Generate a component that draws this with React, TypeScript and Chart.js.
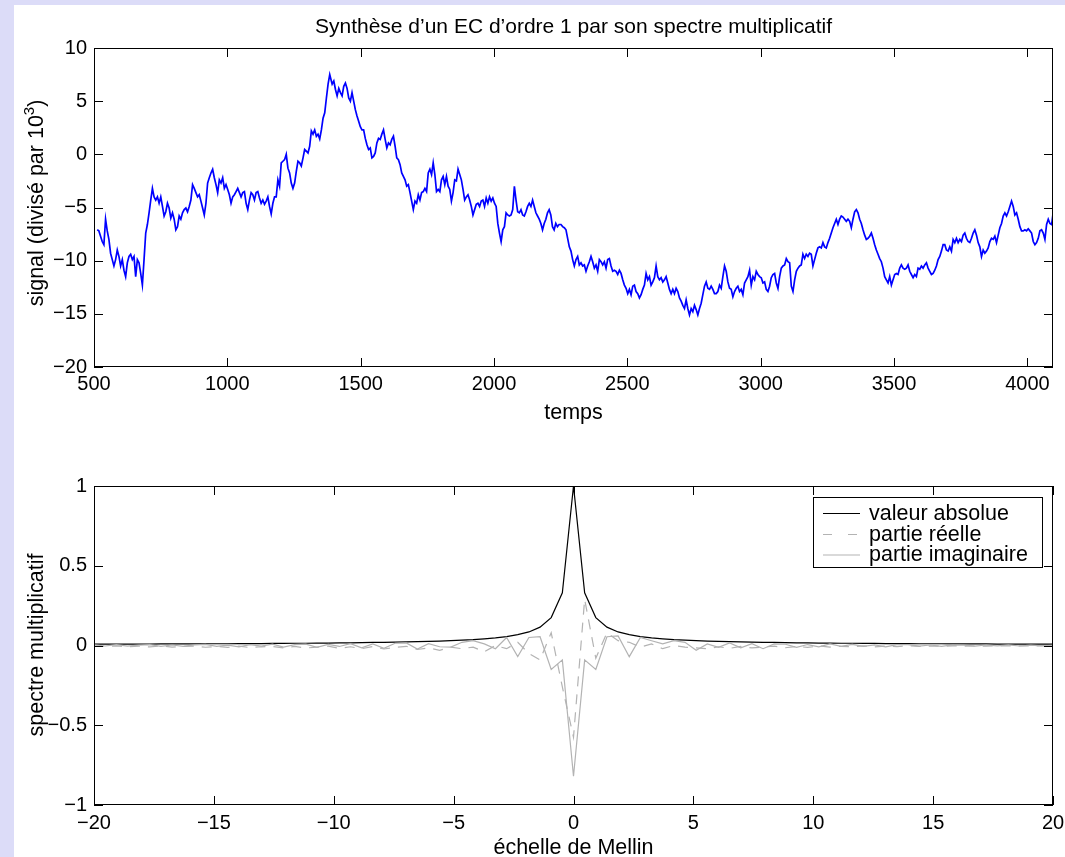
import React, { useEffect, useRef } from 'react';
import { Chart, registerables } from 'chart.js';

Chart.register(...registerables);

const FONT = '"Liberation Sans", Arial, Helvetica, sans-serif';
const TICK_FS = 20;
const TEXT_FS = 21.5;
const TITLE_FS = 21;
const LAVENDER = '#dcdcf8';
const GREY = '#b3b3b3';

// ---------- top panel: signal (divided by 10^3) in four stretches
const stretchATimes = [512, 1384];
const signalStretchA = [
  -7.1, -7.2, -7.7, -8.2, -8.5, -6.1, -7.2, -8.0, -9.3, -9.9, -10.5, -9.9, -9.0, -9.6, -10.5, -9.9,
  -10.9, -11.5, -10.2, -9.6, -9.4, -9.9, -9.6, -11.5, -9.9, -10.2, -11.2, -12.3, -9.9, -7.4, -6.6, -5.5,
  -4.3, -3.2, -4.0, -4.3, -4.0, -4.6, -4.0, -4.9, -5.8, -5.4, -4.6, -5.05, -6.0, -5.5, -6.1, -7.1,
  -6.8, -5.8, -6.1, -5.5, -5.2, -5.05, -5.4, -4.9, -4.3, -2.85, -3.2, -3.6, -4.0, -3.8, -4.4, -5.05,
  -5.7, -4.6, -2.7, -2.2, -1.75, -1.4, -2.2, -2.85, -3.6, -2.4, -2.7, -2.2, -3.2, -2.85, -3.3, -3.8,
  -4.6, -4.0, -3.8, -3.5, -3.2, -3.6, -4.0, -3.6, -3.5, -4.6, -5.2, -4.3, -3.6, -3.8, -4.3, -3.6,
  -3.5, -4.1, -4.6, -4.3, -4.7, -4.4, -4.0, -4.9, -5.6, -4.6, -4.0, -4.0, -2.4, -3.0, -0.8, -0.65,
  -0.5, 0.0, -1.3, -1.75, -2.7, -3.2, -2.7, -1.6, -0.65, -0.8, -1.1, -0.35, 0.45, 0.3, 0.13, 0.76,
  2.2, 1.9, 2.3, 1.7, 1.9, 1.45, 2.3, 3.4, 3.9, 5.3, 6.6, 7.5,
];

const stretchBTimes = [1393, 2244];
const signalStretchB = [
  6.6, 6.9, 6.1, 5.5, 6.2, 5.8, 5.5, 6.4, 6.7, 6.2, 5.3, 5.0, 5.8, 5.0, 4.2, 3.6, 3.1, 2.6, 2.3, 2.3,
  1.5, 0.9, 0.45, 0.6, -0.34, -0.2, 0.13, 1.07, 1.5, 1.4, 1.9, 2.3, 1.4, 0.6, 1.07, 0.9, 1.4, 1.7,
  0.76, -0.34, -0.5, -0.97, -1.75, -2.07, -2.4, -3.0, -2.85, -3.6, -4.4, -5.2, -4.4, -4.6, -3.8, -4.3,
  -3.6, -3.5, -3.2, -3.5, -1.75, -1.4, -1.9, -0.8, -1.9, -3.5, -3.3, -3.5, -2.4, -2.07, -2.85, -2.07,
  -3.0, -3.3, -4.4, -3.6, -2.4, -2.5, -1.4, -1.9, -2.4, -3.3, -4.3, -4.0, -3.8, -4.3, -4.9, -5.7,
  -5.2, -4.7, -4.6, -4.9, -4.4, -4.3, -4.9, -4.1, -4.6, -4.0, -4.4, -4.1, -4.6, -4.9, -6.5, -7.4,
  -8.2, -7.1, -6.8, -5.5, -5.7, -5.8, -5.7, -5.2, -3.0, -4.3, -5.4, -5.5, -5.2, -5.7, -5.8, -5.4,
  -4.9, -4.6, -4.9, -4.3, -4.9, -5.5, -5.8, -6.1, -6.5, -7.1, -6.5, -6.1, -5.5, -5.2, -5.7, -6.8,
  -7.1, -6.5, -6.8, -6.6,
];

const stretchCTimes = [2251, 3146];
const signalStretchC = [
  -6.6, -6.8, -6.9, -7.1, -7.9, -8.7, -9.1, -9.9, -10.5, -9.9, -9.6, -10.4, -10.2, -10.5, -10.4, -11.0,
  -10.5, -10.1, -9.6, -10.1, -10.7, -10.4, -11.0, -9.9, -10.1, -10.4, -10.1, -10.7, -9.9, -9.8, -10.5,
  -11.0, -10.9, -11.0, -11.3, -10.9, -11.2, -11.8, -12.3, -12.6, -13.1, -12.7, -13.2, -12.4, -12.3,
  -12.9, -13.1, -13.5, -13.2, -12.7, -12.3, -11.2, -11.8, -11.5, -12.3, -12.0, -11.6, -10.5, -11.5,
  -11.8, -11.6, -12.0, -11.8, -11.5, -12.1, -12.7, -13.1, -12.7, -13.1, -12.6, -12.9, -13.5, -13.8,
  -14.2, -14.5, -13.7, -14.5, -15.1, -14.5, -14.8, -14.2, -14.6, -15.1, -14.5, -14.0, -13.2, -12.4,
  -12.0, -12.6, -12.7, -12.4, -12.7, -13.1, -13.1, -12.9, -12.3, -12.6, -11.5, -10.5, -11.0, -12.0,
  -12.6, -12.7, -13.4, -12.9, -12.6, -12.4, -12.9, -12.7, -13.2, -12.1, -11.8, -11.5, -10.9, -12.3,
  -11.5, -11.8, -11.0, -11.3, -11.5, -11.6, -12.1, -12.0, -12.7, -12.9, -12.4, -11.6, -11.3, -11.2,
  -12.1, -12.6, -11.5, -10.7, -10.5, -10.4, -9.8, -10.1, -10.2, -12.4, -12.9, -11.8, -11.0, -10.7,
  -10.5,
];

const stretchDTimes = [3152, 4097];
const signalStretchD = [
  -10.4, -9.4, -9.8, -9.4, -9.6, -9.3, -9.4, -10.5, -9.9, -9.3, -8.8, -8.7, -8.8, -8.3, -8.7, -8.8,
  -8.3, -7.9, -7.4, -6.9, -6.5, -6.1, -6.6, -6.1, -5.8, -5.9, -6.1, -6.3, -6.1, -6.3, -6.9, -6.1,
  -5.4, -5.2, -5.5, -6.1, -6.5, -7.1, -7.6, -8.0, -7.9, -7.7, -7.4, -7.9, -8.5, -9.0, -9.4, -9.8,
  -10.1, -10.7, -11.5, -11.8, -12.1, -11.5, -12.3, -11.8, -11.3, -11.2, -11.3, -10.7, -10.4, -10.7,
  -10.8, -10.7, -10.4, -11.0, -11.3, -11.6, -11.3, -11.5, -10.7, -10.8, -10.5, -10.7, -10.4, -10.2,
  -10.7, -11.0, -11.3, -11.2, -10.9, -10.5, -9.9, -9.6, -9.1, -8.5, -8.5, -9.0, -9.1, -8.7, -9.1,
  -8.0, -8.3, -7.9, -8.3, -8.0, -8.2, -7.6, -7.4, -7.9, -8.2, -8.3, -7.9, -7.4, -7.1, -7.6, -8.3,
  -8.7, -9.6, -9.0, -9.3, -9.1, -8.8, -8.2, -7.9, -8.0, -7.7, -8.3, -7.6, -6.9, -6.5, -5.8, -5.5,
  -5.8, -5.4, -4.9, -4.4, -4.9, -5.7, -5.5, -6.1, -6.8, -7.2, -7.2, -7.1, -7.2, -7.0, -7.2, -7.4,
  -8.2, -8.5, -8.3, -7.9, -7.2, -7.1, -7.4, -8.0, -6.6, -6.1, -6.5, -6.6, -5.4,
];

const timeRange = [500, 4096];
const timeTicks = [500, 1000, 1500, 2000, 2500, 3000, 3500, 4000];
const signalRange = [-20, 10];
const signalTicks = [-20, -15, -10, -5, 0, 5, 10];

// ---------- bottom panel: multiplicative spectrum on a Mellin-scale grid from -20 to 20
const mellinRange = [-20, 20];
const mellinTicks = [-20, -15, -10, -5, 0, 5, 10, 15, 20];
const spectrumRange = [-1, 1];
const spectrumTicks = [-1, -0.5, 0, 0.5, 1];

const absoluteValue = [
  0.008, 0.008, 0.009, 0.009, 0.009, 0.009, 0.010, 0.010, 0.010, 0.010, 0.011, 0.011, 0.011, 0.012,
  0.012, 0.012, 0.013, 0.013, 0.014, 0.014, 0.015, 0.015, 0.016, 0.017, 0.018, 0.019, 0.020, 0.021,
  0.023, 0.024, 0.026, 0.028, 0.031, 0.034, 0.037, 0.042, 0.048, 0.056, 0.068, 0.085, 0.115, 0.175,
  0.33,
  1.0,
  0.33, 0.175, 0.115, 0.085, 0.068, 0.056, 0.048, 0.042, 0.037, 0.034, 0.031, 0.028, 0.026, 0.024,
  0.023, 0.021, 0.020, 0.019, 0.018, 0.017, 0.016, 0.015, 0.015, 0.014, 0.014, 0.013, 0.013, 0.012,
  0.012, 0.012, 0.011, 0.011, 0.011, 0.010, 0.010, 0.010, 0.010, 0.009, 0.009, 0.009, 0.009, 0.008,
  0.008,
];

const realPart = [
  -0.003, -0.006, -0.002, -0.008, -0.004, -0.009, -0.003, -0.010, -0.005, -0.004, -0.011, -0.006,
  -0.012, -0.004, -0.013, -0.008, -0.006, -0.015, -0.005, -0.016, -0.010, -0.004, -0.018, -0.008,
  -0.020, -0.006, -0.022, -0.012, -0.005, -0.025, -0.015, -0.03,
  -0.01, -0.02, -0.01, -0.04, 0.0, -0.02, 0.02, -0.05, -0.09, 0.08, -0.26,
  -0.575,
  0.29, -0.08, 0.08, 0.03, 0.02, -0.01, 0.01, -0.02, 0.0, -0.01, -0.015,
  -0.02, -0.008, -0.018, -0.006, -0.015, -0.01, -0.004, -0.014, -0.006, -0.012, -0.003, -0.01,
  -0.005, -0.008, -0.002, -0.009, -0.004, -0.007, -0.002, -0.006, -0.003, -0.005, -0.002, -0.004,
  -0.003, -0.004, -0.002, -0.003, -0.002, -0.003, -0.001, -0.002,
];

const imagPart = [
  0.004, -0.003, 0.005, -0.004, 0.002, 0.006, -0.005, 0.003, -0.006, 0.004, 0.007, -0.005, 0.002,
  -0.008, 0.006, -0.004, 0.008, -0.010, 0.005, 0.009, -0.012, 0.007, -0.006, 0.012, -0.015, 0.010,
  -0.018, 0.014, 0.016, -0.022, 0.012, -0.008,
  -0.01, 0.02, 0.03, 0.01, -0.02, 0.05, -0.07, 0.05, 0.055, -0.15, -0.09,
  -0.82,
  -0.09, -0.15, 0.055, 0.06, -0.07, 0.05, 0.03, 0.01, 0.03, 0.02, -0.03,
  0.01, -0.012, 0.016, -0.014, 0.012, -0.02, 0.01, 0.008, -0.012, 0.006, -0.008, 0.01, -0.005, 0.007,
  -0.006, 0.004, -0.008, 0.005, 0.006, -0.004, 0.003, -0.005, 0.004, 0.002, -0.004, 0.003, -0.002,
  0.004, -0.003, 0.002, -0.002, 0.001,
];

const seriesLabels = ['valeur absolue', 'partie réelle', 'partie imaginaire'];
const chartTitle = 'Synthèse d’un EC d’ordre 1 par son spectre multiplicatif';

// ---------- helpers
function stretch(times: number[], vals: number[]) {
  const [t0, t1] = times;
  const n = vals.length;
  return vals.map((v, i) => ({ x: t0 + ((t1 - t0) * i) / (n - 1), y: v }));
}

const fmt = (v: any) => String(v).replace('-', '\u2212');

function axisOpts(range: number[], tickValues: number[], padding: number, size: { w?: number; h?: number }) {
  return {
    type: 'linear' as const,
    min: range[0],
    max: range[1],
    grid: { display: false, drawTicks: false },
    border: { display: false },
    afterBuildTicks: (s: any) => {
      s.ticks = tickValues.map((value) => ({ value }));
    },
    ticks: {
      autoSkip: false,
      maxRotation: 0,
      padding,
      color: '#000',
      font: { family: FONT, size: TICK_FS },
      callback: fmt,
    },
    afterFit: (s: any) => {
      if (size.w !== undefined) s.width = size.w;
      if (size.h !== undefined) s.height = size.h;
      s.paddingLeft = 0;
      s.paddingRight = 0;
      s.paddingTop = 0;
      s.paddingBottom = 0;
    },
  };
}

type Decor = {
  title?: string;
  titleY?: number;
  xTitle: string;
  xTitleY: number;
  yTitle: string;
  yTitleSup?: string;
  yTitleEnd?: string;
  yTitleY: number;
  legend?: boolean;
};

function decorPlugin(d: Decor) {
  return {
    id: 'decor',
    afterDatasetsDraw(chart: any) {
      const { ctx, chartArea } = chart;
      const { left, right, top, bottom } = chartArea;
      const xs = chart.scales.x;
      const ys = chart.scales.y;
      const T = 9;
      ctx.save();
      ctx.strokeStyle = '#000';
      ctx.lineWidth = 1;
      ctx.setLineDash([]);
      ctx.beginPath();
      for (const t of xs.ticks) {
        const p = Math.round(xs.getPixelForValue(t.value)) + 0.5;
        ctx.moveTo(p, bottom);
        ctx.lineTo(p, bottom - T);
        ctx.moveTo(p, top);
        ctx.lineTo(p, top + T);
      }
      for (const t of ys.ticks) {
        const p = Math.round(ys.getPixelForValue(t.value)) + 0.5;
        ctx.moveTo(left, p);
        ctx.lineTo(left + T, p);
        ctx.moveTo(right, p);
        ctx.lineTo(right - T, p);
      }
      ctx.stroke();
      ctx.strokeRect(left + 0.5, top + 0.5, right - left - 1, bottom - top - 1);

      const mainFont = `${TEXT_FS}px ${FONT}`;
      const supFont = `15px ${FONT}`;
      ctx.fillStyle = '#000';
      const cx = (left + right) / 2;
      ctx.textAlign = 'center';
      ctx.textBaseline = 'middle';
      if (d.title) {
        ctx.font = `${TITLE_FS}px ${FONT}`;
        ctx.fillText(d.title, cx, d.titleY);
      }
      ctx.font = mainFont;
      ctx.fillText(d.xTitle, cx, d.xTitleY);

      // rotated y title with optional superscript
      ctx.save();
      ctx.translate(43, d.yTitleY);
      ctx.rotate(-Math.PI / 2);
      ctx.textAlign = 'left';
      ctx.textBaseline = 'alphabetic';
      ctx.font = mainFont;
      const w1 = ctx.measureText(d.yTitle).width;
      let w2 = 0;
      if (d.yTitleSup) {
        ctx.font = supFont;
        w2 = ctx.measureText(d.yTitleSup).width;
        ctx.font = mainFont;
      }
      const w3 = d.yTitleEnd ? ctx.measureText(d.yTitleEnd).width : 0;
      let xx = -(w1 + w2 + w3) / 2;
      ctx.fillText(d.yTitle, xx, 0);
      xx += w1;
      if (d.yTitleSup) {
        ctx.font = supFont;
        ctx.fillText(d.yTitleSup, xx, -9);
        xx += w2;
        ctx.font = mainFont;
      }
      if (d.yTitleEnd) ctx.fillText(d.yTitleEnd, xx, 0);
      ctx.restore();

      if (d.legend) {
        const bx0 = 813.5, bx1 = 1042.5, by0 = 67.5, by1 = 137.5;
        ctx.fillStyle = '#fff';
        ctx.fillRect(bx0, by0, bx1 - bx0, by1 - by0);
        ctx.strokeStyle = '#000';
        ctx.lineWidth = 1;
        ctx.strokeRect(bx0, by0, bx1 - bx0, by1 - by0);
        const rows = [83, 104, 124.5];
        const styles = [
          { color: '#000', dash: [] as number[] },
          { color: GREY, dash: [9, 16] },
          { color: GREY, dash: [] as number[] },
        ];
        ctx.font = mainFont;
        ctx.textAlign = 'left';
        ctx.textBaseline = 'middle';
        rows.forEach((ry, i) => {
          ctx.strokeStyle = styles[i].color;
          ctx.setLineDash(styles[i].dash);
          ctx.beginPath();
          ctx.moveTo(823, ry + 0.5);
          ctx.lineTo(860, ry + 0.5);
          ctx.stroke();
          ctx.setLineDash([]);
          ctx.fillStyle = '#000';
          ctx.fillText(seriesLabels[i], 869, ry + 1);
        });
      }
      ctx.restore();
    },
  };
}

export default function App() {
  const topRef = useRef<HTMLCanvasElement>(null);
  const botRef = useRef<HTMLCanvasElement>(null);

  useEffect(() => {
    const signalPoints = [
      ...stretch(stretchATimes, signalStretchA),
      ...stretch(stretchBTimes, signalStretchB),
      ...stretch(stretchCTimes, signalStretchC),
      ...stretch(stretchDTimes, signalStretchD),
    ];

    const top = new Chart(topRef.current as HTMLCanvasElement, {
      type: 'line',
      data: {
        datasets: [
          {
            data: signalPoints,
            borderColor: '#0000ff',
            borderWidth: 1.7,
            pointRadius: 0,
            tension: 0,
          },
        ],
      },
      options: {
        responsive: false,
        animation: false,
        events: [],
        layout: { padding: { top: 48, right: 12, left: 0, bottom: 0 } },
        plugins: { legend: { display: false }, tooltip: { enabled: false }, title: { display: false } },
        scales: {
          x: axisOpts(timeRange, timeTicks, 5, { h: 63 }),
          y: axisOpts(signalRange, signalTicks, 7, { w: 94 }),
        },
      } as any,
      plugins: [
        decorPlugin({
          title: chartTitle,
          titleY: 27,
          xTitle: 'temps',
          xTitleY: 413,
          yTitle: 'signal (divisé par 10',
          yTitleSup: '3',
          yTitleEnd: ')',
          yTitleY: 203,
        }),
      ],
    });

    const n = absoluteValue.length;
    const grid = absoluteValue.map((_, i) => mellinRange[0] + ((mellinRange[1] - mellinRange[0]) * i) / (n - 1));
    const pts = (vals: number[]) => vals.map((v, i) => ({ x: grid[i], y: v }));

    const bottom = new Chart(botRef.current as HTMLCanvasElement, {
      type: 'line',
      data: {
        datasets: [
          { label: seriesLabels[0], data: pts(absoluteValue), borderColor: '#000', borderWidth: 1.2, pointRadius: 0, tension: 0, order: 3 },
          { label: seriesLabels[1], data: pts(realPart), borderColor: GREY, borderWidth: 1.2, borderDash: [10, 8], pointRadius: 0, tension: 0, order: 2 },
          { label: seriesLabels[2], data: pts(imagPart), borderColor: GREY, borderWidth: 1.2, pointRadius: 0, tension: 0, order: 1 },
        ],
      },
      options: {
        responsive: false,
        animation: false,
        events: [],
        layout: { padding: { top: 56, right: 12, left: 0, bottom: 0 } },
        plugins: { legend: { display: false }, tooltip: { enabled: false }, title: { display: false } },
        scales: {
          x: axisOpts(mellinRange, mellinTicks, 6, { h: 52 }),
          y: axisOpts(spectrumRange, spectrumTicks, 7, { w: 94 }),
        },
      } as any,
      plugins: [
        decorPlugin({
          xTitle: 'échelle de Mellin',
          xTitleY: 418,
          yTitle: 'spectre multiplicatif',
          yTitleY: 215,
          legend: true,
        }),
      ],
    });

    return () => {
      top.destroy();
      bottom.destroy();
    };
  }, []);

  return (
    <div style={{ position: 'absolute', left: 0, top: 0, width: 1065, height: 857, background: LAVENDER, overflow: 'hidden' }}>
      <div style={{ position: 'absolute', left: 14, top: 5, right: 0, bottom: 0, background: '#fff' }} />
      <canvas ref={topRef} width={1065} height={430} style={{ position: 'absolute', left: 0, top: 0 }} />
      <canvas ref={botRef} width={1065} height={427} style={{ position: 'absolute', left: 0, top: 430 }} />
    </div>
  );
}
